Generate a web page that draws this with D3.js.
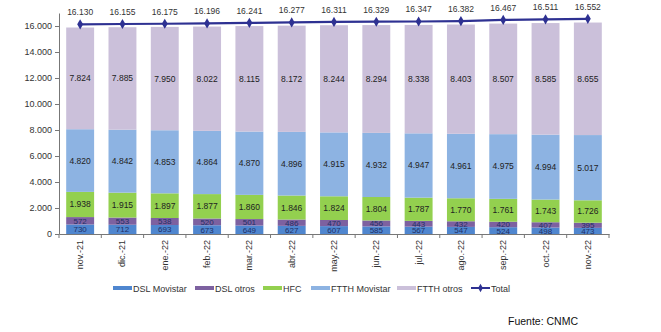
<!doctype html>
<html>
<head>
    <title>banda ancha fija</title>
    <style>
        body { margin: 0; background: #fff; }
        text { font-family: "Liberation Sans", Arial, sans-serif; }
    </style>
    <script src="https://d3js.org/d3.v7.min.js"></script>
</head>
<body>
    <svg width="661" height="332"></svg>
    <script>
        var months = ["nov.-21", "dic.-21", "ene.-22", "feb.-22", "mar.-22", "abr.-22", "may.-22",
            "jun.-22", "jul.-22", "ago.-22", "sep.-22", "oct.-22", "nov.-22"];
        var dslMovistar = [730, 712, 693, 673, 649, 627, 607, 585, 567, 547, 524, 498, 473];
        var dslOtros = [572, 553, 538, 520, 501, 486, 470, 456, 443, 432, 420, 407, 395];
        var hfc = [1938, 1915, 1897, 1877, 1860, 1846, 1824, 1804, 1787, 1770, 1761, 1743, 1726];
        var ftthMovistar = [4820, 4842, 4853, 4864, 4870, 4896, 4915, 4932, 4947, 4961, 4975, 4994, 5017];
        var ftthOtros = [7824, 7885, 7950, 8022, 8115, 8172, 8244, 8294, 8338, 8403, 8507, 8585, 8655];
        var total = [16130, 16155, 16175, 16196, 16241, 16277, 16311, 16329, 16347, 16382, 16467, 16511, 16552];
        var yTicks = [0, 2000, 4000, 6000, 8000, 10000, 12000, 14000, 16000];

        var series = [
            { name: "DSL Movistar", values: dslMovistar, color: "#4f86cf", text: "#1f2f66", size: "8px" },
            { name: "DSL otros", values: dslOtros, color: "#7d61a0", text: "#1f2f66", size: "8px" },
            { name: "HFC", values: hfc, color: "#93d04f", text: "#222", size: "8.5px" },
            { name: "FTTH Movistar", values: ftthMovistar, color: "#8db3e2", text: "#222", size: "8.5px" },
            { name: "FTTH otros", values: ftthOtros, color: "#cbc0da", text: "#222", size: "8.5px" }
        ];

        var fmt = function (v) { return d3.format(",")(v).replace(/,/g, "."); };

        var svg = d3.select("svg");
        var plotL = 59, plotR = 609, plotT = 13, plotB = 234;

        var x = d3.scaleBand().domain(months).range([plotL, plotR]).paddingInner(0.34).paddingOuter(0.17);
        var xTick = d3.scaleBand().domain(months).range([plotL, plotR]);
        var y = d3.scaleLinear().domain([0, 17000]).range([plotB, plotT]);

        // stacked bars
        var rows = months.map(function (m, i) {
            var r = { month: m };
            series.forEach(function (s) { r[s.name] = s.values[i]; });
            return r;
        });
        var stack = d3.stack().keys(series.map(function (s) { return s.name; }))(rows);

        var layers = svg.append("g").selectAll("g")
            .data(stack)
            .enter().append("g")
            .attr("fill", function (d, i) { return series[i].color; });

        layers.selectAll("rect")
            .data(function (d) { return d; })
            .enter().append("rect")
            .attr("x", function (d) { return x(d.data.month); })
            .attr("y", function (d) { return y(d[1]); })
            .attr("width", x.bandwidth())
            .attr("height", function (d) { return y(d[0]) - y(d[1]); });

        layers.each(function (layer, i) {
            d3.select(this).selectAll("text")
                .data(layer)
                .enter().append("text")
                .attr("x", function (d) { return x(d.data.month) + x.bandwidth() / 2; })
                .attr("y", function (d) { return (y(d[0]) + y(d[1])) / 2 + 3; })
                .attr("text-anchor", "middle")
                .attr("font-size", series[i].size)
                .attr("fill", series[i].text)
                .text(function (d) { return fmt(d[1] - d[0]); });
        });

        // axes
        var yAxis = svg.append("g")
            .attr("transform", "translate(" + plotL + ",0)")
            .call(d3.axisLeft(y).tickValues(yTicks).tickSize(4).tickSizeOuter(0).tickFormat(fmt));
        yAxis.select(".domain").attr("stroke", "#777");
        yAxis.selectAll(".tick line").attr("stroke", "#777");
        yAxis.selectAll(".tick text").attr("font-size", "9px").attr("fill", "#333")
            .attr("font-family", "Liberation Sans, Arial, sans-serif");

        var xAxis = svg.append("g")
            .attr("transform", "translate(0," + plotB + ")")
            .call(d3.axisBottom(xTick).tickSize(0).tickSizeOuter(0).tickFormat(""));
        xAxis.select(".domain").attr("stroke", "#777");
        xAxis.selectAll(".tick").remove();

        svg.append("g").selectAll("line")
            .data(months.concat(["end"]))
            .enter().append("line")
            .attr("x1", function (d, i) { return i < months.length ? xTick(d) : plotR; })
            .attr("x2", function (d, i) { return i < months.length ? xTick(d) : plotR; })
            .attr("y1", plotB)
            .attr("y2", plotB + 4)
            .attr("stroke", "#777");

        svg.append("g").selectAll("text")
            .data(months)
            .enter().append("text")
            .attr("transform", function (d) {
                return "translate(" + (xTick(d) + xTick.bandwidth() / 2 + 3) + "," + (plotB + 6) + ") rotate(-90)";
            })
            .attr("text-anchor", "end")
            .attr("font-size", "9px")
            .attr("fill", "#333")
            .text(function (d) { return d; });

        // total line
        var cx = function (i) { return x(months[i]) + x.bandwidth() / 2; };
        var line = d3.line()
            .x(function (d, i) { return cx(i); })
            .y(function (d) { return y(d); });

        svg.append("path")
            .datum(total)
            .attr("fill", "none")
            .attr("stroke", "#2e3192")
            .attr("stroke-width", 2.2)
            .attr("d", line);

        svg.append("g").selectAll("path")
            .data(total)
            .enter().append("path")
            .attr("d", d3.symbol().type(d3.symbolDiamond).size(30))
            .attr("transform", function (d, i) { return "translate(" + cx(i) + "," + y(d) + ")"; })
            .attr("fill", "#2e3192");

        svg.append("g").selectAll("text")
            .data(total)
            .enter().append("text")
            .attr("x", function (d, i) { return cx(i); })
            .attr("y", function (d) { return y(d) - 9; })
            .attr("text-anchor", "middle")
            .attr("font-size", "8.5px")
            .attr("fill", "#333")
            .text(function (d) { return fmt(d); });

        // legend
        var legendItems = series.map(function (s) { return { name: s.name, color: s.color }; })
            .concat([{ name: "Total", color: "#2e3192", line: true }]);
        var legendX = [113, 195, 263, 311, 397, 471];
        var lg = svg.append("g").selectAll("g")
            .data(legendItems)
            .enter().append("g")
            .attr("transform", function (d, i) { return "translate(" + legendX[i] + ",288)"; });
        lg.append("line")
            .attr("x1", 0).attr("x2", 19)
            .attr("stroke", function (d) { return d.color; })
            .attr("stroke-width", function (d) { return d.line ? 2 : 4; });
        lg.filter(function (d) { return d.line; }).append("path")
            .attr("d", d3.symbol().type(d3.symbolDiamond).size(20))
            .attr("transform", "translate(9.5,0)")
            .attr("fill", "#2e3192");
        lg.append("text")
            .attr("x", 20)
            .attr("y", 3.5)
            .attr("font-size", "9px")
            .attr("fill", "#333")
            .text(function (d) { return d.name; });

        svg.append("text")
            .attr("x", 508)
            .attr("y", 325)
            .attr("font-size", "10.5px")
            .attr("fill", "#111")
            .text("Fuente: CNMC");
    </script>
</body>
</html>
